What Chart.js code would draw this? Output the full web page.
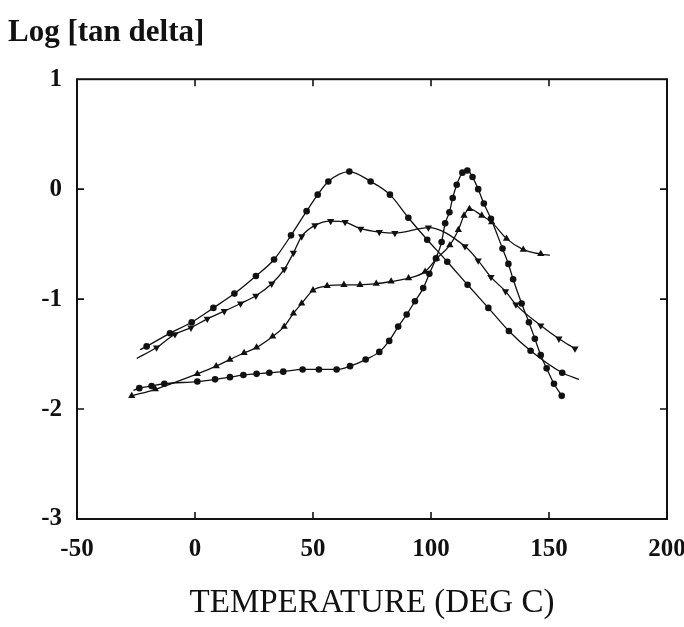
<!DOCTYPE html>
<html>
<head>
<meta charset="utf-8">
<title>Log tan delta vs temperature</title>
<script src="https://cdn.jsdelivr.net/npm/chart.js@4.4.9/dist/chart.umd.min.js"></script>
<style>
  html, body { margin: 0; padding: 0; background: #fff; }
  #wrap { width: 684px; height: 627px; }
</style>
</head>
<body>
<div id="wrap"><canvas id="tanDeltaChart" width="684" height="627"></canvas></div>
<script>
// Temperature sweeps (deg C) and log[tan delta] for the four samples.
// Entries flagged 0 in the *Mark arrays are where the fitted curve runs past the last measured point.
const tempA  = [-23.3, -20.5, -10.6, -1.4, 7.8, 16.7, 25.8, 33.5, 40.7, 47.3, 52.0, 56.5, 65.4, 74.4, 82.6, 90.4, 98.4, 106.9, 115.5, 124.3, 133.0, 142.2, 155.6, 162.7];
const logA   = [-1.46, -1.43, -1.31, -1.21, -1.08, -0.95, -0.79, -0.64, -0.42, -0.20, -0.05, 0.07, 0.16, 0.07, -0.05, -0.26, -0.46, -0.66, -0.87, -1.08, -1.29, -1.47, -1.67, -1.73];
const markA  = [0, 1, 1, 1, 1, 1, 1, 1, 1, 1, 1, 1, 1, 1, 1, 1, 1, 1, 1, 1, 1, 1, 1, 0];

const tempB  = [-24.7, -16.3, -8.5, -1.7, 5.2, 12.4, 19.3, 25.8, 32.5, 37.8, 41.7, 45.2, 50.8, 57.5, 63.6, 70.2, 78.1, 84.7, 98.9, 114.4, 120.0, 125.4, 131.6, 136.0, 146.5, 154.2, 161.0];
const logB   = [-1.54, -1.44, -1.32, -1.26, -1.18, -1.11, -1.04, -0.97, -0.86, -0.73, -0.58, -0.43, -0.33, -0.29, -0.30, -0.36, -0.39, -0.40, -0.35, -0.52, -0.65, -0.80, -0.93, -1.05, -1.24, -1.36, -1.45];
const markB  = [0, 1, 1, 1, 1, 1, 1, 1, 1, 1, 1, 1, 1, 1, 1, 1, 1, 1, 1, 1, 1, 1, 1, 1, 1, 1, 1];

const tempC  = [-26.8, -16.8, 1.0, 9.0, 14.8, 20.8, 26.1, 32.9, 37.8, 41.7, 45.2, 50.0, 56.0, 63.1, 69.9, 76.8, 83.1, 90.5, 97.5, 102.4, 108.0, 111.6, 114.0, 116.3, 121.5, 125.7, 132.0, 139.1, 146.5, 150.4];
const logC   = [-1.88, -1.82, -1.68, -1.61, -1.55, -1.49, -1.44, -1.34, -1.25, -1.13, -1.04, -0.92, -0.88, -0.87, -0.87, -0.86, -0.84, -0.81, -0.75, -0.63, -0.51, -0.37, -0.24, -0.18, -0.24, -0.30, -0.45, -0.55, -0.59, -0.60];
const markC  = [1, 1, 1, 1, 1, 1, 1, 1, 1, 1, 1, 1, 1, 1, 1, 1, 1, 1, 1, 1, 1, 1, 1, 1, 1, 1, 1, 1, 1, 0];

const tempD  = [-26.1, -23.6, -18.4, -13.0, 1.0, 8.5, 14.8, 20.5, 26.1, 31.5, 37.4, 45.6, 52.5, 60.0, 65.7, 72.3, 78.1, 82.3, 86.1, 89.7, 93.2, 96.7, 99.3, 102.1, 104.5, 106.0, 107.8, 109.2, 110.9, 113.3, 115.4, 117.6, 120.0, 122.4, 125.4, 130.3, 132.8, 134.8, 138.4, 141.5, 144.0, 146.5, 149.0, 152.1, 155.4];
const logD   = [-1.83, -1.81, -1.79, -1.77, -1.75, -1.73, -1.71, -1.69, -1.68, -1.67, -1.66, -1.64, -1.64, -1.64, -1.61, -1.55, -1.48, -1.38, -1.25, -1.14, -1.02, -0.90, -0.77, -0.63, -0.48, -0.31, -0.21, -0.08, 0.04, 0.15, 0.17, 0.11, 0.00, -0.13, -0.27, -0.54, -0.68, -0.82, -1.04, -1.21, -1.36, -1.51, -1.63, -1.77, -1.88];
const markD  = [0, 1, 1, 1, 1, 1, 1, 1, 1, 1, 1, 1, 1, 1, 1, 1, 1, 1, 1, 1, 1, 1, 1, 1, 1, 1, 1, 1, 1, 1, 1, 1, 1, 1, 1, 1, 1, 1, 1, 1, 1, 1, 1, 1, 1];

const tempTicks = [-50, 0, 50, 100, 150, 200];
const logTicks  = [-3, -2, -1, 0, 1];

const INK = '#111111';
const SERIF = '"Liberation Serif", "DejaVu Serif", serif';

function toPoints(xs, ys) {
    return xs.map(function (x, i) { return { x: x, y: ys[i] }; });
}

function makeSeries(label, xs, ys, marks, style, rotation) {
    return {
        label: label,
        data: toPoints(xs, ys),
        showLine: true,
        borderColor: INK,
        borderWidth: 1.3,
        backgroundColor: INK,
        pointBackgroundColor: INK,
        pointBorderColor: INK,
        pointBorderWidth: 0,
        pointStyle: style,
        rotation: rotation || 0,
        pointRadius: marks.map(function (m) { return m ? (style === 'circle' ? 3.3 : 4.2) : 0; }),
        cubicInterpolationMode: 'monotone'
    };
}

// Box around the plot with short ticks pointing inward on all four sides
const frameTicks = {
    id: 'frameTicks',
    afterDraw: function (chart) {
        const ctx = chart.ctx;
        const area = chart.chartArea;
        const xs = chart.scales.x;
        const ys = chart.scales.y;
        const len = 7;
        ctx.save();
        ctx.strokeStyle = INK;
        ctx.lineWidth = 2;
        ctx.strokeRect(area.left, area.top, area.right - area.left, area.bottom - area.top);
        ctx.lineWidth = 1.6;
        ctx.beginPath();
        tempTicks.slice(1, -1).forEach(function (t) {
            const px = xs.getPixelForValue(t);
            ctx.moveTo(px, area.bottom);
            ctx.lineTo(px, area.bottom - len);
            ctx.moveTo(px, area.top);
            ctx.lineTo(px, area.top + len);
        });
        logTicks.slice(1, -1).forEach(function (v) {
            const py = ys.getPixelForValue(v);
            ctx.moveTo(area.left, py);
            ctx.lineTo(area.left + len, py);
            ctx.moveTo(area.right, py);
            ctx.lineTo(area.right - len, py);
        });
        ctx.stroke();
        ctx.restore();
    }
};

const ctx = document.getElementById('tanDeltaChart').getContext('2d');
new Chart(ctx, {
    type: 'scatter',
    data: {
        datasets: [
            makeSeries('A', tempA, logA, markA, 'circle'),
            makeSeries('B', tempB, logB, markB, 'triangle', 180),
            makeSeries('C', tempC, logC, markC, 'triangle'),
            makeSeries('D', tempD, logD, markD, 'circle')
        ]
    },
    options: {
        responsive: false,
        animation: false,
        layout: {
            padding: { left: 8, right: 0, top: 0, bottom: 0 }
        },
        plugins: {
            legend: { display: false },
            tooltip: { enabled: false },
            title: {
                display: true,
                text: 'Log [tan delta]',
                align: 'start',
                color: INK,
                font: { family: SERIF, size: 31, weight: 'bold' },
                padding: { top: 14, bottom: 28 }
            }
        },
        scales: {
            x: {
                type: 'linear',
                min: -50,
                max: 200,
                afterBuildTicks: function (scale) {
                    scale.ticks = tempTicks.map(function (v) { return { value: v }; });
                },
                afterFit: function (scale) {
                    scale.height = 108;
                    scale.paddingRight = 17;
                },
                grid: { display: false, drawTicks: false },
                border: { display: false },
                ticks: {
                    color: INK,
                    padding: 16,
                    maxRotation: 0,
                    font: { family: SERIF, size: 25, weight: 'bold' }
                },
                title: {
                    display: true,
                    text: 'TEMPERATURE (DEG C)',
                    color: INK,
                    font: { family: SERIF, size: 33 },
                    padding: { top: 25 }
                }
            },
            y: {
                type: 'linear',
                min: -3,
                max: 1,
                afterBuildTicks: function (scale) {
                    scale.ticks = logTicks.map(function (v) { return { value: v }; });
                },
                afterFit: function (scale) { scale.width = 69; },
                grid: { display: false, drawTicks: false },
                border: { display: false },
                ticks: {
                    color: INK,
                    padding: 15,
                    font: { family: SERIF, size: 25, weight: 'bold' }
                }
            }
        }
    },
    plugins: [frameTicks]
});
</script>
</body>
</html>
